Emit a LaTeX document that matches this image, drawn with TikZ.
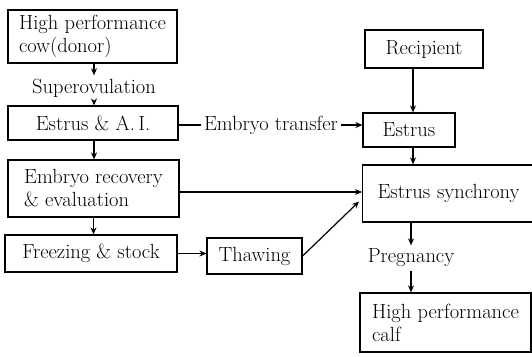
\documentclass[tikz,border=0pt]{standalone}
\usetikzlibrary{arrows.meta}
\begin{document}
\begin{tikzpicture}[x=1pt,y=-1pt,
  every node/.style={font=\fontsize{20.5}{23}\selectfont},
  box/.style={draw, line width=1.2pt, inner sep=0pt},
  arr/.style={-{Stealth[length=7pt,width=6pt]}, line width=1.2pt},
  plain/.style={line width=1.2pt}]
\useasboundingbox (0,0) rectangle (532,356);

\node[box, minimum width=169pt, minimum height=53pt, align=left] (donor) at (92.5,36.5) {High performance\\cow(donor)};
\node (superov) at (94,88) {Superovulation};
\node[box, minimum width=170pt, minimum height=34pt] (estrusAI) at (93,123) {Estrus \& A.\,I.};
\node[box, minimum width=171pt, minimum height=57pt, align=left] (recovery) at (93.5,188.5) {Embryo recovery\\\& evaluation};
\node[box, minimum width=172pt, minimum height=37pt] (freezing) at (91,253.5) {Freezing \& stock};
\node[box, minimum width=95pt, minimum height=36pt] (thawing) at (254.5,256) {Thawing};

\node[box, minimum width=118pt, minimum height=38pt] (recipient) at (424,49) {Recipient};
\node[box, minimum width=92pt, minimum height=34pt] (estrus) at (409,130) {Estrus};
\node[box, anchor=west, text width=152pt, inner xsep=15pt, minimum height=57pt] (sync) at (362,193.5) {Estrus synchrony};
\node (preg) at (411,258) {Pregnancy};
\node[box, minimum width=171pt, minimum height=59pt, align=left] (calf) at (445.5,322.5) {High performance\\calf};

\node (et) at (271,125) {Embryo transfer};

\draw[arr] (donor.south -| superov.north) -- (superov.north);
\draw[arr] (superov.south) -- (superov.south |- estrusAI.north);
\draw[arr] (estrusAI.south -| superov.south) -- (recovery.north -| superov.south);
\draw[arr] (recovery.south) -- (recovery.south |- freezing.north);
\draw[arr] (freezing.east) -- (freezing.east -| thawing.west);
\draw[arr] ([yshift=-3.5pt]recovery.east) -- ([yshift=-3.5pt]recovery.east -| sync.west);
\draw[arr] (thawing.east) -- ([xshift=-3pt,yshift=-8pt]sync.west);

\draw[arr] ([xshift=4pt]estrus.north |- recipient.south) -- ([xshift=4pt]estrus.north);
\draw[arr] ([xshift=4pt]estrus.south) -- ([xshift=4pt]estrus.south |- sync.north);
\draw[arr] (sync.south -| preg.north) -- (preg.north);
\draw[arr] (preg.south) -- (preg.south |- calf.north);

\draw[plain] (estrusAI.east |- et.west) -- (et.west);
\draw[arr] (et.east) -- (et.east -| estrus.west);
\end{tikzpicture}
\end{document}
